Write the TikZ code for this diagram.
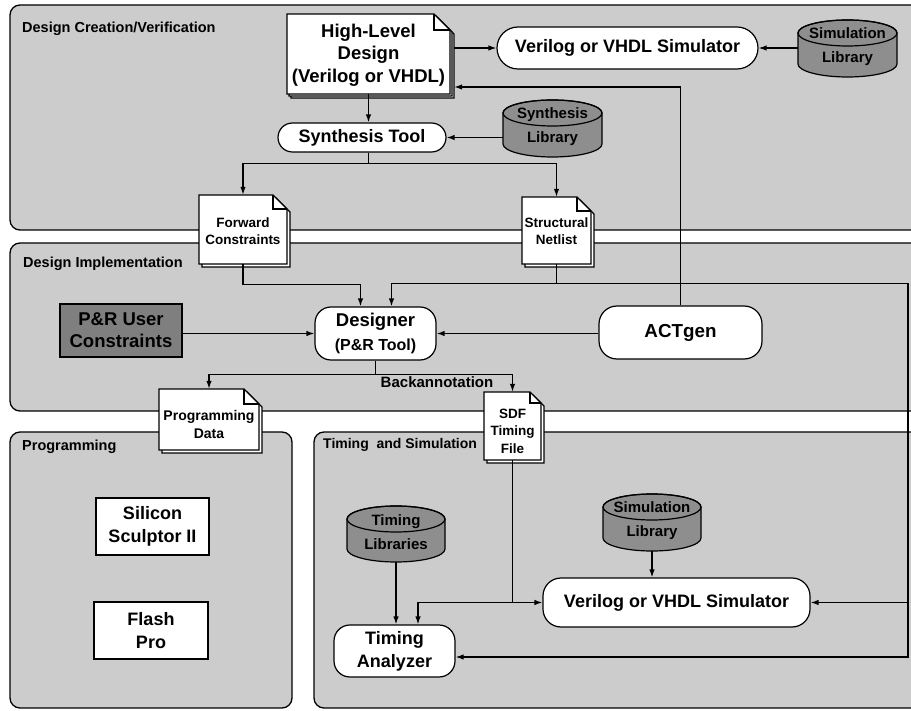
\documentclass[tikz,border=0pt]{standalone}
\usepackage{fontspec}
\setmainfont{Liberation Sans}
\usetikzlibrary{arrows.meta,calc}
\definecolor{panelgray}{HTML}{CCCCCC}
\definecolor{cylgray}{HTML}{8E8E8E}
\definecolor{boxgray}{HTML}{7F7F7F}
\newcommand\fsz[2]{\fontsize{#1}{#2}\selectfont\bfseries}
% document shape: name, x1, y1, x2, y2, fold, shadow, text y, text (font from style docfont)
\newcommand\docnode[9]{%
  \draw[docline] ({#2+#7},{#3+#7}) -- ({#4-#6+#7},{#3+#7}) -- ({#4+#7},{#3+#6+#7}) -- ({#4+#7},{#5+#7}) -- ({#2+#7},{#5+#7}) -- cycle;
  \draw[docline] (#2,#3) -- ({#4-#6},#3) -- (#4,{#3+#6}) -- (#4,#5) -- (#2,#5) -- cycle;
  \draw[docline,fill=none] ({#4-#6},#3) -- ({#4-#6},{#3+#6}) -- (#4,{#3+#6});
  \node[inner sep=0pt, minimum width={(#4-#2)*1pt}, minimum height={(#5-#3)*1pt}] (#1) at ({(#2+#4)/2},{(#3+#5)/2}) {};
  \node[inner sep=0pt, align=center, docfont] (#1-t) at ({(#2+#4)/2},#8) {#9};
}
% cylinder: name, left, top, right, bottom, text
\newcommand\cylnode[6]{%
  \draw[cylline] (#2,{#3+13}) -- (#2,{#5-13}) arc[start angle=180, end angle=0, x radius={(#4-#2)/2}, y radius=13] -- (#4,{#3+13}) arc[start angle=0, end angle=-180, x radius={(#4-#2)/2}, y radius=13] -- cycle;
  \draw[cylline,fill=none] ({(#2+#4)/2},{#3+13}) ellipse[x radius={(#4-#2)/2}, y radius=13];
  \node[inner sep=0pt, minimum width={(#4-#2)*1pt}, minimum height={(#5-#3)*1pt}] (#1) at ({(#2+#4)/2},{(#3+#5)/2}) {};
  \node[inner sep=0pt, align=center, font=\fsz{15}{24}] (#1-t) at ({(#2+#4)/2},{(#3+#5)/2-1.5}) {#6};
}
\tikzset{
  panelbox/.style={draw=black, line width=1.3pt, fill=panelgray, rounded corners=10pt},
  docline/.style={draw=black, line width=1.2pt, fill=white},
  cylline/.style={draw=black, line width=1.2pt, fill=cylgray},
  seclabel/.style={anchor=west, inner sep=0pt, font=\fsz{14.5}{17}},
  rbox/.style={draw=black, line width=1.2pt, fill=white, inner sep=0pt, align=center},
  sqbox/.style={draw=black, line width=1.2pt, inner sep=0pt, align=center},
  wire/.style={line width=1.25pt},
  conn/.style={line width=1.25pt, -{Latex[length=8pt,width=5.5pt]}},
  docfont/.style={font=\fsz{13.5}{17}},
}
\begin{document}
\begin{tikzpicture}[x=1pt,y=1pt,yscale=-1]
\useasboundingbox (0,0) rectangle (911,711);
\clip (0,0) rectangle (911,711);
% panels
\draw[panelbox] (10,5) rectangle (940,230);
\draw[panelbox] (10,243) rectangle (940,411);
\draw[panelbox] (10,432) rectangle (292,708);
\draw[panelbox] (314,432) rectangle (940,708);
\node[seclabel] (l1) at (22,28.5) {Design Creation/Verification};
\node[seclabel] (l2) at (23,264) {Design Implementation};
\node[seclabel] (l3) at (22,447) {Programming};
\node[seclabel, font=\fsz{14}{17}] (l4) at (323,445) {Timing\ \ and Simulation};

% documents
\tikzset{docfont/.style={font=\fsz{18.5}{22.5}}}
\draw[docline] (291,18) -- (438,18) -- (454,34) -- (454,98) -- (291,98) -- cycle;
\docnode{hld}{287}{14}{450}{94}{16}{2}{55}{High-Level\\Design\\(Verilog or VHDL)}
\tikzset{docfont/.style={font=\fsz{13.5}{17}}}
\docnode{fwd}{199}{195}{287}{264}{14}{3}{231}{Forward\\Constraints}
\docnode{net}{522}{197}{591}{264}{14}{3}{231}{Structural\\Netlist}
\tikzset{docfont/.style={font=\fsz{14}{18}}}
\docnode{pdata}{159}{389}{259}{450}{15}{3}{424}{Programming\\Data}
\tikzset{docfont/.style={font=\fsz{13.5}{17.5}}}
\docnode{sdf}{484}{392}{541}{460}{11}{3}{431}{SDF\\Timing\\File}

% cylinders
\cylnode{simlibA}{798}{20}{897}{77}{Simulation\\Library}
\cylnode{synlib}{503}{100}{602}{157}{Synthesis\\Library}
\cylnode{tlib}{347}{506}{445}{562}{Timing\\Libraries}
\cylnode{simlibB}{603}{494}{701}{551}{Simulation\\Library}

% rounded tools
\node[rbox, minimum width=261pt, minimum height=42pt, rounded corners=21pt, font=\fsz{18}{22}] (vsimA) at (627.5,48) {Verilog or VHDL Simulator};
\node[rbox, minimum width=168pt, minimum height=29pt, rounded corners=14.5pt, font=\fsz{18}{22}] (synth) at (362,137.5) {Synthesis Tool};
\node[rbox, minimum width=121pt, minimum height=53pt, rounded corners=16pt, font=\fsz{18.5}{24}] (des) at (375.5,333.5) {Designer\\{\fontsize{16}{24}\selectfont\bfseries (P\&R Tool)}};
\node[rbox, minimum width=163pt, minimum height=53pt, rounded corners=18pt, font=\fsz{18.8}{22}] (act) at (680.5,332.5) {ACTgen};
\node[rbox, minimum width=121pt, minimum height=52pt, rounded corners=16pt, font=\fsz{18}{23}] (ta) at (394.5,651) {Timing\\Analyzer};
\node[rbox, minimum width=267pt, minimum height=49pt, rounded corners=18pt, font=\fsz{18}{22}] (vsimB) at (676.5,602.5) {Verilog or VHDL Simulator};

% square boxes
\node[sqbox, fill=boxgray, minimum width=122pt, minimum height=53pt, font=\fsz{18.5}{22}] (pr) at (121,330.5) {P\&R User\\Constraints};
\node[sqbox, fill=white, minimum width=113pt, minimum height=57pt, font=\fsz{18}{23}] (sil) at (152.5,526.5) {Silicon\\Sculptor II};
\node[sqbox, fill=white, minimum width=114pt, minimum height=57pt, font=\fsz{18}{23}] (flash) at (151,630.5) {Flash\\Pro};

\node[inner sep=0pt, font=\fsz{15}{18}] (ba) at (437,382) {Backannotation};

% connectors
\draw[conn] (hld.south) -- (hld.south |- synth.north);
\draw[conn] ($(hld.east |- vsimA.west)+(4,0)$) -- (vsimA.west);
\draw[conn] (simlibA.west |- vsimA.east) -- (vsimA.east);
\draw[conn] (synlib.west |- synth.east) -- (synth.east);
\draw[wire] (hld.south |- synth.south) -- ++(0,11) coordinate (sj);
\draw[conn] (sj) -| (fwd.north);
\draw[conn] (sj) -| (net.north);
\draw[conn] (fwd.south) -- ++(0,20) -| ($(des.north)+(-15,0)$);
\draw[wire] (net.south) -- ++(0,19) coordinate (nj);
\draw[conn] (nj) -| ($(des.north)+(16,0)$);
\coordinate (rb) at (908,657);
\draw[conn] (nj) -| (rb) -- (ta.east |- rb);
\draw[conn] (rb |- vsimB.east) -- (vsimB.east);
\draw[conn] (act.north) |- ($(hld.east)+(4,33)$);
\draw[conn] (act.west |- des.east) -- (des.east);
\draw[conn] (pr.east |- des.west) -- (des.west);
\draw[wire] (des.south) -- ++(0,14) coordinate (dj);
\draw[conn] (dj) -| (pdata.north);
\draw[conn] (dj) -| (sdf.north);
\draw[wire] (sdf.south) -- (sdf.south |- vsimB.west) coordinate (sj2);
\draw[conn] (sj2) -- (vsimB.west);
\draw[conn] (sj2) -| ($(ta.north)+(23.5,0)$);
\draw[conn] (tlib.south) -- (tlib.south |- ta.north);
\draw[conn] (simlibB.south) -- (simlibB.south |- vsimB.north);
\end{tikzpicture}
\end{document}
